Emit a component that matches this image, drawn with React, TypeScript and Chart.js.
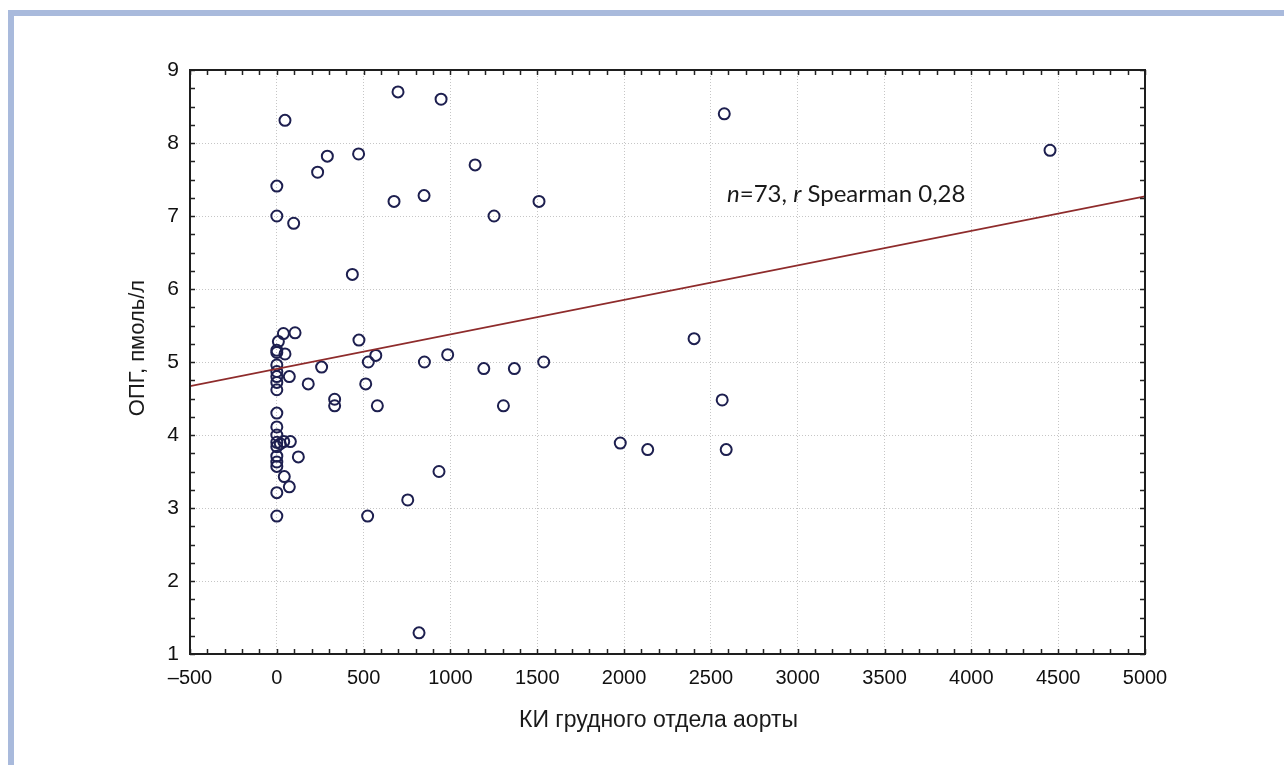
import React, { useEffect, useRef } from "react";
import { Chart, registerables } from "chart.js";

Chart.register(...registerables);

// Scatter data: КИ грудного отдела аорты (x) vs ОПГ, пмоль/л (y)
const kiValues = [
  47, 0, 0, 97, 235, 291, 471, 698, 946, 675, 848, 1142, 1251, 1510, 2577, 4453,
  435, 473, 38, 105, 9, 0, 47, 0, 0, 0, 72, 0, 0, 0, 181, 258, 333, 333, 527, 570,
  512, 579, 0, 0, 0, 0, 40, 78, 0, 0, 124, 0, 43, 72, 0, 0, 523, 850, 984, 1192,
  1368, 1537, 1305, 1978, 2136, 934, 754, 819, 2403, 2565, 2588, 0, 20,
];
const opgValues = [
  8.31, 7.41, 7.0, 6.9, 7.6, 7.82, 7.85, 8.7, 8.6, 7.2, 7.28, 7.7, 7.0, 7.2, 8.4, 7.9,
  6.2, 5.3, 5.39, 5.4, 5.28, 5.16, 5.11, 5.13, 4.96, 4.87, 4.8, 4.8, 4.72, 4.62, 4.7, 4.93, 4.49, 4.4, 5.0, 5.09,
  4.7, 4.4, 4.3, 4.11, 4.0, 3.9, 3.91, 3.91, 3.84, 3.71, 3.7, 3.63, 3.43, 3.29, 3.21, 2.89, 2.89, 5.0, 5.1, 4.91,
  4.91, 5.0, 4.4, 3.89, 3.8, 3.5, 3.11, 1.29, 5.32, 4.48, 3.8, 3.57, 3.88,
];

// Regression line end points
const trendX = [-500, 5000];
const trendY = [4.67, 7.27];

// Axes
const xMin = -500;
const xMax = 5000;
const xStep = 500;
const xMinorStep = 100;
const yMin = 1;
const yMax = 9;
const yStep = 1;
const yMinorStep = 0.25;

const xTitle = "КИ грудного отдела аорты";
const yTitle = "ОПГ, пмоль/л";

// Annotation: [text, italic]
const noteParts: [string, boolean][] = [
  ["n", true],
  ["=73, ", false],
  ["r", true],
  [" Spearman 0,28", false],
];
const noteAt = { x: 2593, y: 7.19 };

const tickFont = "'Liberation Sans', Arial, sans-serif";

const decorPlugin = {
  id: "decor",
  afterDatasetsDraw(chart: any) {
    const { ctx, chartArea } = chart;
    const { left, right, top, bottom } = chartArea;
    const xs = chart.scales.x;
    const ys = chart.scales.y;
    ctx.save();
    ctx.strokeStyle = "#222";
    ctx.lineWidth = 1.5;
    const tl = 5;
    ctx.beginPath();
    for (let v = xMin; v <= xMax + 1e-9; v += xMinorStep) {
      const px = Math.round(xs.getPixelForValue(v)) + 0.5;
      ctx.moveTo(px, bottom);
      ctx.lineTo(px, bottom - tl);
      ctx.moveTo(px, top);
      ctx.lineTo(px, top + tl);
    }
    for (let v = yMin; v <= yMax + 1e-9; v += yMinorStep) {
      const py = Math.round(ys.getPixelForValue(v)) + 0.5;
      ctx.moveTo(left, py);
      ctx.lineTo(left + tl, py);
      ctx.moveTo(right, py);
      ctx.lineTo(right - tl, py);
    }
    ctx.stroke();
    // frame
    ctx.lineWidth = 2;
    ctx.strokeStyle = "#1e1e1e";
    ctx.strokeRect(left, top, right - left, bottom - top);

    // axis titles
    ctx.fillStyle = "#1a1a1a";
    ctx.textAlign = "center";
    ctx.textBaseline = "middle";
    ctx.font = `23px ${tickFont}`;
    ctx.fillText(xTitle, (left + right) / 2 - 9, bottom + 67);
    ctx.font = `22px ${tickFont}`;
    ctx.save();
    ctx.translate(left - 52, (top + bottom) / 2 - 14);
    ctx.rotate(-Math.PI / 2);
    ctx.fillText(yTitle, 0, 0);
    ctx.restore();

    // annotation
    let nx = xs.getPixelForValue(noteAt.x);
    const ny = ys.getPixelForValue(noteAt.y);
    ctx.textAlign = "left";
    ctx.textBaseline = "alphabetic";
    ctx.fillStyle = "#1a1a1a";
    for (const [t, it] of noteParts) {
      ctx.font = `${it ? "italic " : ""}24px Lato, 'Open Sans', sans-serif`;
      ctx.fillText(t, nx, ny);
      nx += ctx.measureText(t).width;
    }
    ctx.restore();
  },
};

export default function App() {
  const ref = useRef<HTMLCanvasElement>(null);
  useEffect(() => {
    const canvas = ref.current;
    if (!canvas) return;
    const chart = new Chart(canvas, {
      type: "scatter",
      data: {
        datasets: [
          {
            type: "line",
            data: trendX.map((x, i) => ({ x, y: trendY[i] })),
            borderColor: "#8e2b2b",
            borderWidth: 1.8,
            pointRadius: 0,
            fill: false,
            order: 0,
          } as any,
          {
            type: "scatter",
            data: kiValues.map((x, i) => ({ x, y: opgValues[i] })),
            pointStyle: "circle",
            pointRadius: 5.5,
            borderColor: "#1d1f4f",
            borderWidth: 2,
            backgroundColor: "rgba(0,0,0,0)",
            order: 1,
          },
        ],
      },
      options: {
        responsive: false,
        animation: false,
        devicePixelRatio: 1,
        layout: { padding: { left: 0, top: 70, right: 139, bottom: 0 } },
        plugins: { legend: { display: false }, tooltip: { enabled: false } },
        scales: {
          x: {
            type: "linear",
            min: xMin,
            max: xMax,
            ticks: {
              stepSize: xStep,
              font: { family: tickFont, size: 20 },
              color: "#111",
              padding: 12,
              maxRotation: 0,
              autoSkip: false,
              callback: (v: any) => String(v).replace("-", "–"),
            },
            grid: { color: "#c6c6c6", lineWidth: 1, drawTicks: false },
            border: { display: false, dash: [1, 2] },
            afterFit: (s: any) => {
              s.height = 111;
            },
          },
          y: {
            type: "linear",
            min: yMin,
            max: yMax,
            ticks: {
              stepSize: yStep,
              font: { family: tickFont, size: 21 },
              color: "#111",
              padding: 11,
              autoSkip: false,
            },
            grid: { color: "#c6c6c6", lineWidth: 1, drawTicks: false },
            border: { display: false, dash: [1, 2] },
            afterFit: (s: any) => {
              s.width = 190;
            },
          },
        },
      },
      plugins: [decorPlugin],
    });
    return () => chart.destroy();
  }, []);

  return (
    <div style={{ position: "fixed", left: 0, top: 0, width: 1284, height: 765, background: "#fff", overflow: "hidden" }}>
      <canvas ref={ref} width={1284} height={765} style={{ position: "absolute", left: 0, top: 0 }} />
      <div
        style={{
          position: "absolute",
          left: 8,
          top: 10,
          right: -20,
          bottom: -20,
          borderLeft: "6px solid #a9badc",
          borderTop: "6px solid #a9badc",
          pointerEvents: "none",
        }}
      />
    </div>
  );
}
